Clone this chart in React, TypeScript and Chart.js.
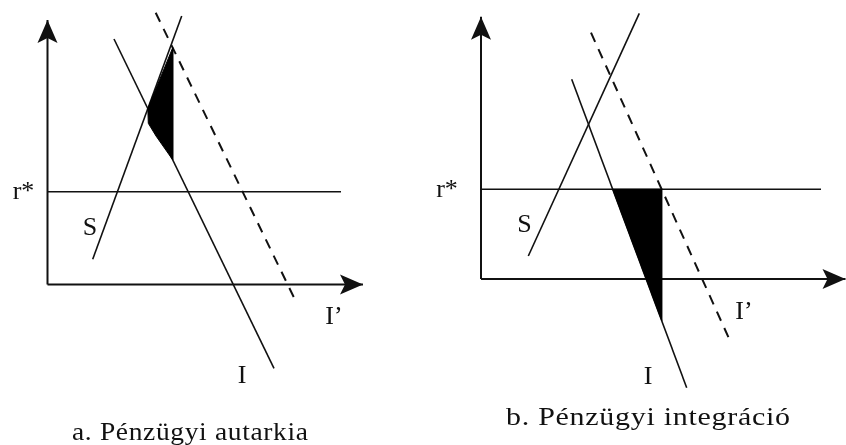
import React, { useEffect, useRef } from "react";
import { Chart, registerables } from "chart.js";

Chart.register(...registerables);

type P = { x: number; y: number };

// ---- Panel a: Pénzügyi autarkia (abstract units, origin at axes corner) ----
const A_AXIS_X: P[] = [{ x: 0, y: 0 }, { x: 31.55, y: 0 }];
const A_AXIS_Y: P[] = [{ x: 0, y: 0 }, { x: 0, y: 26.45 }];
const A_RSTAR: P[] = [{ x: 0, y: 9.28 }, { x: 29.35, y: 9.28 }];
const A_S: P[] = [{ x: 4.52, y: 2.52 }, { x: 13.42, y: 26.85 }];
const A_I: P[] = [{ x: 6.65, y: 24.55 }, { x: 22.65, y: -8.38 }];
const A_IP: P[] = [{ x: 10.82, y: 27.18 }, { x: 24.85, y: -1.72 }];
const A_BLEED: P[] = [{ x: 10.85, y: 14.85 }, { x: 10.08, y: 16.12 }];
const A_LABELS = ["r*", "S", "I’", "I"];
const A_LABEL_POS: P[] = [{ x: -2.4, y: 9.25 }, { x: 4.25, y: 5.65 }, { x: 28.65, y: -3.25 }, { x: 19.45, y: -9.15 }];
const A_CAPTION = "a. Pénzügyi autarkia";
const A_CAPTION_POS: P = { x: 14.25, y: -15.55 };

// ---- Panel b: Pénzügyi integráció ----
const B_AXIS_X: P[] = [{ x: 0, y: 0 }, { x: 36.45, y: 0 }];
const B_AXIS_Y: P[] = [{ x: 0, y: 0 }, { x: 0, y: 26.23 }];
const B_RSTAR: P[] = [{ x: 0, y: 8.97 }, { x: 34.0, y: 8.97 }];
const B_S: P[] = [{ x: 4.73, y: 2.3 }, { x: 15.83, y: 26.57 }];
const B_I: P[] = [{ x: 9.07, y: 19.97 }, { x: 20.57, y: -10.87 }];
const B_IP: P[] = [{ x: 11.0, y: 24.63 }, { x: 24.9, y: -6.17 }];
const B_GAP: P[] = [{ x: 13.9, y: 8.73 }, { x: 17.9, y: 7.07 }, { x: 17.9, y: 8.6 }];
const B_LABELS = ["r*", "S", "I’", "I"];
const B_LABEL_POS: P[] = [{ x: -3.4, y: 8.9 }, { x: 4.35, y: 5.4 }, { x: 26.3, y: -3.3 }, { x: 16.7, y: -9.8 }];
const B_CAPTION = "b. Pénzügyi integráció";
const B_CAPTION_POS: P = { x: 16.7, y: -14.6 };

// ---- helpers ----
function intersect(a: P[], b: P[]): P {
  const [p1, p2] = a;
  const [p3, p4] = b;
  const d = (p1.x - p2.x) * (p3.y - p4.y) - (p1.y - p2.y) * (p3.x - p4.x);
  const t = ((p1.x - p3.x) * (p3.y - p4.y) - (p1.y - p3.y) * (p3.x - p4.x)) / d;
  return { x: p1.x + t * (p2.x - p1.x), y: p1.y + t * (p2.y - p1.y) };
}
function onLineAtX(l: P[], x: number): P {
  const [p1, p2] = l;
  return { x, y: p1.y + ((x - p1.x) * (p2.y - p1.y)) / (p2.x - p1.x) };
}

const INK = "#111111";
const FONT = "'Liberation Serif', 'DejaVu Serif', serif";

type PanelSpec = {
  xRange: [number, number];
  yRange: [number, number];
  axisX: P[];
  axisY: P[];
  rstar: P[];
  s: P[];
  i: P[];
  ip: P[];
  shade: P[];
  gap?: P[];
  labels: string[];
  labelPos: P[];
  caption: string;
  captionPos: P;
  captionWidth: number;
};

const panelA: PanelSpec = {
  xRange: [-4.75, 37.55],
  yRange: [-16.05, 28.45],
  axisX: A_AXIS_X,
  axisY: A_AXIS_Y,
  rstar: A_RSTAR,
  s: A_S,
  i: A_I,
  ip: A_IP,
  shade: (() => {
    const p1 = intersect(A_S, A_I);
    const p2 = intersect(A_S, A_IP);
    const p3 = onLineAtX(A_I, p2.x + 0.15);
    return [p1, { x: p2.x + 0.15, y: p2.y - 0.3 }, p3, ...A_BLEED, p1];
  })(),
  labels: A_LABELS,
  labelPos: A_LABEL_POS,
  caption: A_CAPTION,
  captionPos: A_CAPTION_POS,
  captionWidth: 236,
};

const panelB: PanelSpec = {
  xRange: [-5.8, 36.5],
  yRange: [-16.6, 27.9],
  axisX: B_AXIS_X,
  axisY: B_AXIS_Y,
  rstar: B_RSTAR,
  s: B_S,
  i: B_I,
  ip: B_IP,
  shade: (() => {
    const p1 = intersect(B_I, B_RSTAR);
    const p2 = intersect(B_IP, B_RSTAR);
    const p3 = onLineAtX(B_I, p2.x);
    return [p1, p2, p3, p1];
  })(),
  gap: B_GAP,
  labels: B_LABELS,
  labelPos: B_LABEL_POS,
  caption: B_CAPTION,
  captionPos: B_CAPTION_POS,
  captionWidth: 284,
};

function drawArrow(ctx: CanvasRenderingContext2D, tx: number, ty: number, dx: number, dy: number) {
  const L = 23;
  const W = 10;
  const notch = 5;
  const nx = -dy;
  const ny = dx;
  ctx.beginPath();
  ctx.moveTo(tx, ty);
  ctx.lineTo(tx - L * dx + W * nx, ty - L * dy + W * ny);
  ctx.lineTo(tx - (L - notch) * dx, ty - (L - notch) * dy);
  ctx.lineTo(tx - L * dx - W * nx, ty - L * dy - W * ny);
  ctx.closePath();
  ctx.fillStyle = INK;
  ctx.fill();
}

function makeChart(canvas: HTMLCanvasElement, spec: PanelSpec) {
  const line = (data: P[], extra: any = {}) => ({
    data,
    showLine: true,
    borderColor: INK,
    borderWidth: 1.6,
    pointRadius: 0,
    fill: false,
    ...extra,
  });
  const datasets: any[] = [
    line(spec.shade, { fill: "shape", backgroundColor: "#000", borderWidth: 1, borderColor: "#000" }),
  ];
  if (spec.gap) {
    datasets.push(
      line([...spec.gap, spec.gap[0]], { fill: "shape", backgroundColor: "#fff", borderColor: "#fff", borderWidth: 0.5 })
    );
  }
  datasets.push(
    line(spec.axisX, { borderWidth: 2 }),
    line(spec.axisY, { borderWidth: 2 }),
    line(spec.rstar, { borderWidth: 1.6 }),
    line(spec.s),
    line(spec.i),
    line(spec.ip, { borderDash: [10, 8], borderWidth: 2 })
  );

  const decor = {
    id: "decor",
    afterDatasetsDraw(chart: any) {
      const ctx: CanvasRenderingContext2D = chart.ctx;
      const xs = chart.scales.x;
      const ys = chart.scales.y;
      const px = (p: P) => ({ x: xs.getPixelForValue(p.x), y: ys.getPixelForValue(p.y) });
      ctx.save();
      // arrowheads
      const tX = px(spec.axisX[1]);
      drawArrow(ctx, tX.x, tX.y, 1, 0);
      const tY = px(spec.axisY[1]);
      drawArrow(ctx, tY.x, tY.y, 0, -1);
      // labels
      ctx.fillStyle = INK;
      ctx.textAlign = "center";
      ctx.textBaseline = "middle";
      ctx.font = `26px ${FONT}`;
      spec.labels.forEach((t, k) => {
        const p = px(spec.labelPos[k]);
        ctx.fillText(t, p.x, p.y);
      });
      // caption (slightly widened to match the wide book face)
      ctx.font = `25px ${FONT}`;
      ctx.textBaseline = "alphabetic";
      (ctx as any).letterSpacing = "0.6px";
      const w0 = ctx.measureText(spec.caption).width - 0.6;
      const sx = Math.max(1, spec.captionWidth / w0);
      const c = px(spec.captionPos);
      ctx.textAlign = "left";
      ctx.translate(c.x - spec.captionWidth / 2, c.y);
      ctx.scale(sx, 1);
      ctx.fillText(spec.caption, 0, 0);
      ctx.restore();
    },
  };

  return new Chart(canvas, {
    type: "scatter",
    data: { datasets },
    options: {
      animation: false,
      responsive: false,
      maintainAspectRatio: false,
      devicePixelRatio: 1,
      layout: { padding: 0 },
      events: [],
      scales: {
        x: { type: "linear", display: false, min: spec.xRange[0], max: spec.xRange[1] },
        y: { type: "linear", display: false, min: spec.yRange[0], max: spec.yRange[1] },
      },
      plugins: {
        legend: { display: false },
        tooltip: { enabled: false },
      },
    },
    plugins: [decor],
  });
}

function Panel({ spec }: { spec: PanelSpec }) {
  const ref = useRef<HTMLCanvasElement | null>(null);
  useEffect(() => {
    if (!ref.current) return;
    const ch = makeChart(ref.current, spec);
    return () => ch.destroy();
  }, [spec]);
  return <canvas ref={ref} width={423} height={445} style={{ display: "block", width: 423, height: 445 }} />;
}

export default function App() {
  return (
    <div
      style={{
        position: "fixed",
        left: 0,
        top: 0,
        width: 846,
        height: 445,
        display: "flex",
        background: "#fff",
        overflow: "hidden",
      }}
    >
      <Panel spec={panelA} />
      <Panel spec={panelB} />
    </div>
  );
}
